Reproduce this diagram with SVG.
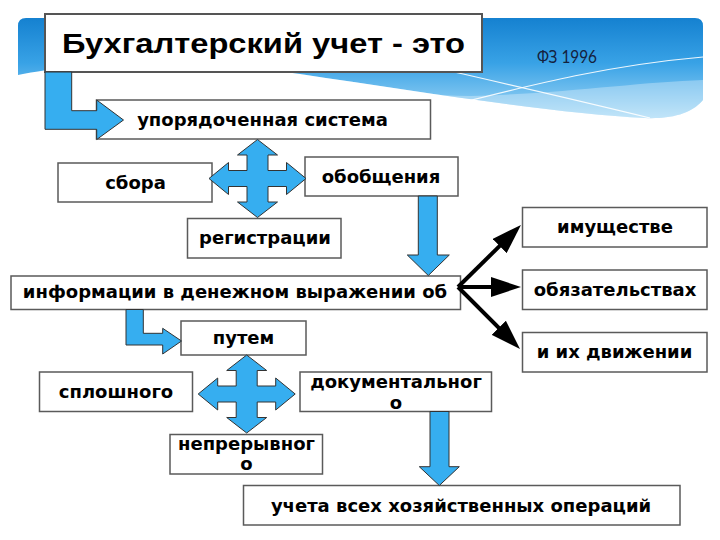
<svg xmlns="http://www.w3.org/2000/svg" width="720" height="540" viewBox="0 0 720 540">
<defs>
<linearGradient id="band" x1="0" y1="18" x2="0" y2="118" gradientUnits="userSpaceOnUse">
<stop offset="0" stop-color="#1581D0"/>
<stop offset="0.45" stop-color="#38A2E6"/>
<stop offset="1" stop-color="#A6D9F6"/>
</linearGradient>
<polygon id="cross" points="0,-39 20,-23.5 10.5,-23.5 10.5,-8 29,-8 29,-16 48.5,0 29,16 29,8 10.5,8 10.5,23.5 20,23.5 0,39 -20,23.5 -10.5,23.5 -10.5,8 -29,8 -29,16 -48.5,0 -29,-16 -29,-8 -10.5,-8 -10.5,-23.5 -20,-23.5"/>
<marker id="head" markerUnits="userSpaceOnUse" viewBox="0 0 30 20" markerWidth="30" markerHeight="20" refX="16" refY="10" orient="auto">
<path d="M0,0 L30,10 L0,20 Z" fill="#000"/>
</marker>
</defs>
<style>
.box{fill:#fff;stroke:#5a5a5a;stroke-width:1.5}
.lbl{font-family:"DejaVu Sans",Verdana,sans-serif;font-weight:bold;font-size:18px;fill:#000;text-anchor:middle}
.blue{fill:#36AEF0;stroke:#333;stroke-width:1}
.blk{stroke:#000;stroke-width:4;fill:none;marker-end:url(#head)}
</style>
<rect width="720" height="540" fill="#fff"/>
<g id="background">
<path d="M18,26 Q18,18 26,18 L695,18 Q703,18 703,26 L703,100 C690,116 665,119 645,118 C560,114 420,92 300,74 C200,60 80,62 18,75 Z" fill="url(#band)"/>
<path d="M300,74 C420,92 560,114 645,118 C665,119 690,116 703,100 L703,80 C640,82 560,94 470,96 C400,95 350,86 300,74 Z" fill="#fff" opacity="0.3"/>
<path d="M420,64 C480,78 560,96 650,118" fill="none" stroke="#fff" stroke-width="1.2" opacity="0.9"/>
<path d="M440,108 C520,88 600,66 703,57" fill="none" stroke="#fff" stroke-width="1.2" opacity="0.9"/>
<text x="537" y="63" font-family="Lato,'Open Sans',sans-serif" font-size="17" fill="#14213d" textLength="60" lengthAdjust="spacingAndGlyphs">ФЗ 1996</text>
</g>
<g id="n-title">
<rect x="45" y="14" width="437" height="58" fill="#fff" stroke="#555" stroke-width="2"/>
<text x="263.5" y="53" font-family="'Liberation Sans',Arial,sans-serif" font-weight="bold" font-size="28" text-anchor="middle" textLength="403" lengthAdjust="spacingAndGlyphs">Бухгалтерский учет - это</text>
</g>
<g id="n-system"><rect class="box" x="96.5" y="100" width="334" height="39"/><text class="lbl" x="262.5" y="126">упорядоченная система</text></g>
<g id="n-sbor"><rect class="box" x="58" y="163" width="154" height="39"/><text class="lbl" x="135.5" y="189">сбора</text></g>
<g id="n-obob"><rect class="box" x="305" y="157" width="153" height="39"/><text class="lbl" x="381" y="183">обобщения</text></g>
<g id="n-reg"><rect class="box" x="187.5" y="218.5" width="153.5" height="39.5"/><text class="lbl" x="265" y="244">регистрации</text></g>
<g id="n-info"><rect class="box" x="11" y="276" width="449.5" height="33.5"/><text class="lbl" x="235" y="298">информации в денежном выражении об</text></g>
<g id="n-imush"><rect class="box" x="522.5" y="207.5" width="184.5" height="39.5"/><text class="lbl" x="615" y="233">имуществе</text></g>
<g id="n-obyaz"><rect class="box" x="522.5" y="270" width="184.5" height="39.5"/><text class="lbl" x="615" y="295.5">обязательствах</text></g>
<g id="n-dvizh"><rect class="box" x="522.5" y="332.5" width="184.5" height="39.5"/><text class="lbl" x="614.5" y="358">и их движении</text></g>
<g id="n-putem"><rect class="box" x="181" y="321" width="125" height="34"/><text class="lbl" x="243.5" y="343.5">путем</text></g>
<g id="n-splosh"><rect class="box" x="39.5" y="372" width="153" height="39.5"/><text class="lbl" x="116" y="397.5">сплошного</text></g>
<g id="n-dokum"><rect class="box" x="300" y="372" width="191.5" height="39.5"/><text class="lbl" x="396" y="388">документальног</text><text class="lbl" x="396" y="408.5">о</text></g>
<g id="n-nepr"><rect class="box" x="170" y="434.5" width="152.5" height="39.5"/><text class="lbl" x="246.5" y="450">непрерывног</text><text class="lbl" x="246.5" y="470">о</text></g>
<g id="n-ucheta"><rect class="box" x="243.5" y="485.5" width="436.5" height="39.5"/><text class="lbl" x="461" y="511.5">учета всех хозяйственных операций</text></g>
<g id="connectors">
<polygon class="blue" points="45,72 71.7,72 71.7,110.7 96.7,110.7 96.7,100 123.5,120 96.7,139.5 96.7,129.3 45,129.3"/>
<use href="#cross" class="blue" transform="translate(257.5,178.5)"/>
<polygon class="blue" points="418.3,196 437.3,196 437.3,255 449.3,255 428.3,275.5 407.3,255 418.3,255"/>
<polygon class="blue" points="126,309.5 143.3,309.5 143.3,333.3 162.7,333.3 162.7,328.3 181.5,341 162.7,354 162.7,345 126,345"/>
<use href="#cross" class="blue" transform="translate(246.7,394)"/>
<polygon class="blue" points="430,411.5 449,411.5 449,466.7 459.3,466.7 439.3,485.5 419.3,466.7 430,466.7"/>
<line class="blk" x1="458" y1="287" x2="511" y2="234.8"/>
<line class="blk" x1="458" y1="287" x2="507" y2="287"/>
<line class="blk" x1="458" y1="287" x2="510.1" y2="339.1"/>
</g>
</svg>
